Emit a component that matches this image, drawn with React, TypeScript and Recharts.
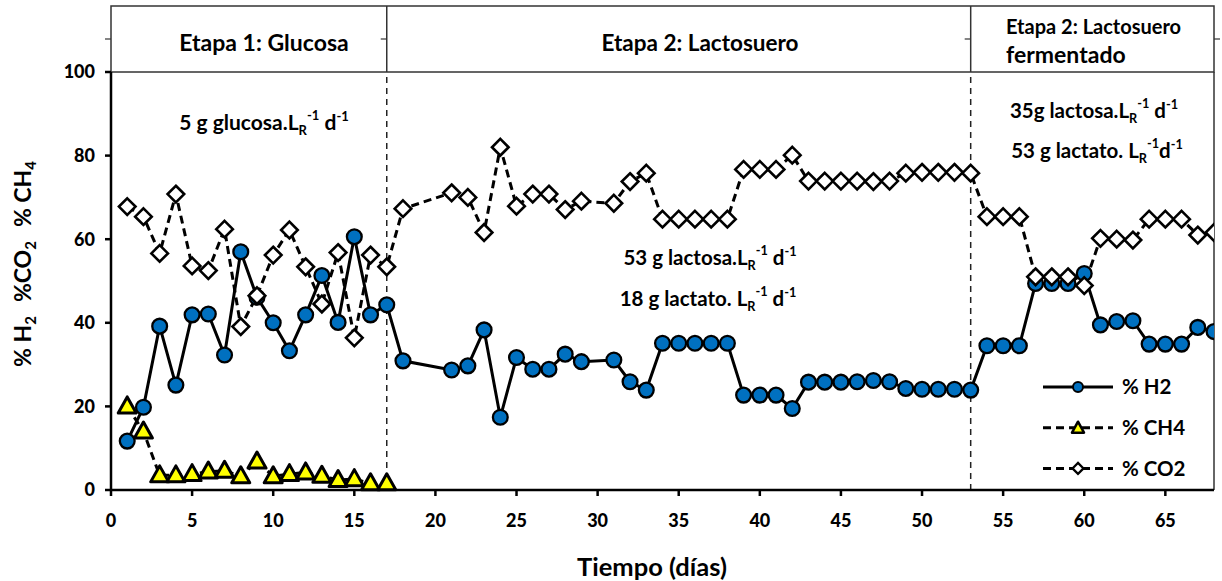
import React from "react";
import { LineChart, Line, XAxis, YAxis, ReferenceLine } from "recharts";

// ---------- data ----------
const gasDays = [
  1, 2, 3, 4, 5, 6, 7, 8, 9, 10, 11, 12, 13, 14, 15, 16, 17, 18,
  21, 22, 23, 24, 25, 26, 27, 28, 29,
  31, 32, 33, 34, 35, 36, 37, 38, 39, 40, 41, 42, 43, 44, 45, 46, 47, 48, 49, 50,
  51, 52, 53, 54, 55, 56, 57, 58, 59, 60, 61, 62, 63, 64, 65, 66, 67, 68,
];
const h2Values = [
  11.7, 19.8, 39.2, 25.1, 41.9, 42.1, 32.3, 57.0, 46.1, 40.0, 33.3, 41.9, 51.3, 40.1, 60.6, 41.9, 44.3, 30.9,
  28.7, 29.7, 38.3, 17.4, 31.7, 28.9, 28.9, 32.5, 30.7,
  31.1, 25.9, 23.9, 35.1, 35.1, 35.1, 35.1, 35.1, 22.7, 22.7, 22.7, 19.5, 25.8, 25.8, 25.8, 25.9, 26.2, 25.9, 24.3, 24.1,
  24.1, 24.1, 23.9, 34.5, 34.5, 34.5, 49.4, 49.4, 49.4, 51.8, 39.5, 40.3, 40.5, 34.9, 34.9, 34.9, 38.9, 37.9,
];
const co2Values = [
  67.8, 65.4, 56.6, 70.8, 53.6, 52.5, 62.4, 39.1, 46.5, 56.2, 62.2, 53.4, 44.5, 56.8, 36.4, 56.2, 53.4, 67.3,
  71.1, 70.0, 61.6, 82.0, 67.9, 70.8, 70.8, 67.1, 69.1,
  68.6, 73.8, 75.8, 64.8, 64.8, 64.8, 64.8, 64.8, 76.7, 76.7, 76.7, 80.1, 73.9, 73.9, 73.9, 73.9, 73.8, 73.9, 75.8, 76.0,
  76.0, 76.0, 75.8, 65.4, 65.4, 65.4, 51.0, 51.0, 51.0, 48.9, 60.2, 60.0, 59.8, 64.8, 64.8, 64.8, 61.0, 61.6,
];
const ch4Days = [1, 2, 3, 4, 5, 6, 7, 8, 9, 10, 11, 12, 13, 14, 15, 16, 17];
const ch4Values = [20.0, 14.0, 3.5, 3.5, 3.8, 4.4, 4.6, 3.3, 6.8, 3.3, 3.8, 4.2, 3.4, 2.4, 2.6, 1.6, 1.6];

const xTicks = [0, 5, 10, 15, 20, 25, 30, 35, 40, 45, 50, 55, 60, 65];
const yTicks = [0, 20, 40, 60, 80, 100];
const stageBounds = [17, 53];
const stageTitles = ["Etapa 1: Glucosa", "Etapa 2: Lactosuero"];
const stage3Title = ["Etapa 2: Lactosuero", "fermentado"];

const h2Data = gasDays.map((d, i) => ({ day: d, v: h2Values[i] }));
const co2Data = gasDays.map((d, i) => ({ day: d, v: co2Values[i] }));
const ch4Data = ch4Days.map((d, i) => ({ day: d, v: ch4Values[i] }));

// ---------- layout ----------
const W = 1222;
const H = 581;
const PL = 111;
const PT = 72;
const PR = 1214;
const PB = 490;
const X_MAX = 68;
const HEADER_TOP = 6;
const FONT = "Lato, 'Open Sans', sans-serif";
const xPx = (d: number) => PL + (d / X_MAX) * (PR - PL);

const BLUE = "#0070C0";
const YELLOW = "#FFFF00";

const circleDot = (p: any) => (
  <circle key={`c${p.index}`} cx={p.cx} cy={p.cy} r={7.4} fill={BLUE} stroke="#000" strokeWidth={2.3} />
);
const triDot = (p: any) => (
  <polygon
    key={`t${p.index}`}
    points={`${p.cx},${p.cy - 9.5} ${p.cx + 9},${p.cy + 6.5} ${p.cx - 9},${p.cy + 6.5}`}
    fill={YELLOW}
    stroke="#000"
    strokeWidth={3}
    strokeLinejoin="round"
  />
);
const diaDot = (p: any) => (
  <polygon
    key={`d${p.index}`}
    points={`${p.cx},${p.cy - 8.3} ${p.cx + 8.3},${p.cy} ${p.cx},${p.cy + 8.3} ${p.cx - 8.3},${p.cy}`}
    fill="#fff"
    stroke="#000"
    strokeWidth={2.6}
  />
);

const Rate = ({ x, y, pre, mid = " d", size = 20.5 }: any) => (
  <text x={x} y={y} textAnchor="middle" fontFamily={FONT} fontWeight={700} fontSize={size} fill="#000">
    <tspan>{pre}</tspan>
    <tspan fontSize={size * 0.62} dy={size * 0.28}>R</tspan>
    <tspan fontSize={size * 0.62} dy={-size * 0.72}>-1</tspan>
    <tspan dy={size * 0.44}>{mid}</tspan>
    <tspan fontSize={size * 0.62} dy={-size * 0.4}>-1</tspan>
  </text>
);

const legendItems = [
  { name: "% H2", dash: undefined, kind: "c" },
  { name: "% CH4", dash: "8 5", kind: "t" },
  { name: "% CO2", dash: "8 5", kind: "d" },
];

export default function App() {
  const s1 = xPx(stageBounds[0]);
  const s2 = xPx(stageBounds[1]);
  return (
    <div style={{ position: "absolute", left: 0, top: 0, width: W, height: H, background: "#fff" }}>
      <LineChart width={W} height={H} margin={{ top: PT, right: W - PR, bottom: 61, left: 0 }}>
        <XAxis
          type="number"
          dataKey="day"
          domain={[0, X_MAX]}
          ticks={xTicks}
          allowDataOverflow
          height={30}
          stroke="#000"
          strokeWidth={2.5}
          tickSize={6}
          tickMargin={18}
          tick={{ fill: "#000", fontSize: 18, fontWeight: 900, fontFamily: FONT }}
        />
        <YAxis
          type="number"
          domain={[0, 100]}
          ticks={yTicks}
          width={PL}
          stroke="#000"
          strokeWidth={2.5}
          tickSize={6}
          tickMargin={10}
          tick={{ fill: "#000", fontSize: 18, fontWeight: 900, fontFamily: FONT }}
        />
        {stageBounds.map((b) => (
          <ReferenceLine key={b} x={b} stroke="#222" strokeWidth={1.5} strokeDasharray="6 5" />
        ))}
        <Line data={h2Data} dataKey="v" stroke="#000" strokeWidth={3} dot={circleDot} isAnimationActive={false} />
        <Line data={ch4Data} dataKey="v" stroke="#000" strokeWidth={3} strokeDasharray="8 5" dot={triDot} isAnimationActive={false} />
        <Line data={co2Data} dataKey="v" stroke="#000" strokeWidth={3} strokeDasharray="8 5" dot={diaDot} isAnimationActive={false} />

        {/* header box */}
        <g>
          <rect x={PL} y={HEADER_TOP} width={PR - PL} height={PT - HEADER_TOP} fill="none" stroke="#333" strokeWidth={1.5} />
          <line x1={s1} x2={s1} y1={HEADER_TOP} y2={PT} stroke="#333" strokeWidth={1.5} />
          <line x1={s2} x2={s2} y1={HEADER_TOP} y2={PT} stroke="#333" strokeWidth={1.5} />
          <line x1={PL - 6} x2={PL} y1={39} y2={39} stroke="#333" strokeWidth={1.2} />
          <line x1={s1 - 6} x2={s1} y1={39} y2={39} stroke="#333" strokeWidth={1.2} />
          <line x1={s2 - 6} x2={s2} y1={39} y2={39} stroke="#333" strokeWidth={1.2} />
          <line x1={PR} x2={PR + 6} y1={39} y2={39} stroke="#333" strokeWidth={1.2} />
          <line x1={PR} x2={PR} y1={PT} y2={PB} stroke="#333" strokeWidth={1.5} />
          <text x={264} y={43} dy="0.35em" textAnchor="middle" fontFamily={FONT} fontWeight={700} fontSize={23}>
            {stageTitles[0]}
          </text>
          <text x={700} y={43} dy="0.35em" textAnchor="middle" fontFamily={FONT} fontWeight={700} fontSize={22.5}>
            {stageTitles[1]}
          </text>
          <text x={1006} y={27} dy="0.35em" textAnchor="start" fontFamily={FONT} fontWeight={700} fontSize={20}>
            {stage3Title[0]}
          </text>
          <text x={1006} y={55} dy="0.35em" textAnchor="start" fontFamily={FONT} fontWeight={700} fontSize={23}>
            {stage3Title[1]}
          </text>
        </g>

        {/* rate annotations */}
        <Rate x={264} y={129.5} pre="5 g glucosa.L" size={21} />
        <Rate x={710} y={264.5} pre="53 g lactosa.L" />
        <Rate x={708} y={305.5} pre="18 g lactato. L" />
        <Rate x={1094} y={117.5} pre="35g lactosa.L" />
        <Rate x={1097} y={157.5} pre="53 g lactato. L" mid="d" />

        {/* y axis title */}
        <text
          transform="translate(31,264) rotate(-90)"
          textAnchor="middle"
          fontFamily={FONT}
          fontWeight={700}
          fontSize={23}
          fill="#000"
        >
          <tspan>% H</tspan>
          <tspan fontSize={15} dy={5}>2</tspan>
          <tspan dy={-5} dx={14}>%CO</tspan>
          <tspan fontSize={15} dy={5}>2</tspan>
          <tspan dy={-5} dx={14}>% CH</tspan>
          <tspan fontSize={15} dy={5}>4</tspan>
        </text>

        {/* x axis title */}
        <text x={652} y={567} dy="0.35em" textAnchor="middle" fontFamily={FONT} fontWeight={700} fontSize={25.5} fill="#000">
          Tiempo (días)
        </text>

        {/* legend */}
        <g>
          {legendItems.map((it, i) => {
            const y = 387 + i * 40.7;
            return (
              <g key={it.name}>
                <line x1={1043} x2={1113} y1={y} y2={y} stroke="#000" strokeWidth={3} strokeDasharray={it.dash} />
                {it.kind === "c" && <circle cx={1078} cy={y} r={5} fill={BLUE} stroke="#000" strokeWidth={2} />}
                {it.kind === "t" && (
                  <polygon points={`1078,${y - 6} 1084,${y + 5} 1072,${y + 5}`} fill={YELLOW} stroke="#000" strokeWidth={2.5} strokeLinejoin="round" />
                )}
                {it.kind === "d" && (
                  <polygon points={`1078,${y - 5.5} 1083.5,${y} 1078,${y + 5.5} 1072.5,${y}`} fill="#fff" stroke="#000" strokeWidth={2.2} />
                )}
                <text x={1122} y={y} dy="0.35em" fontFamily={FONT} fontWeight={700} fontSize={20.5} fill="#000">
                  {it.name}
                </text>
              </g>
            );
          })}
        </g>
      </LineChart>
    </div>
  );
}
